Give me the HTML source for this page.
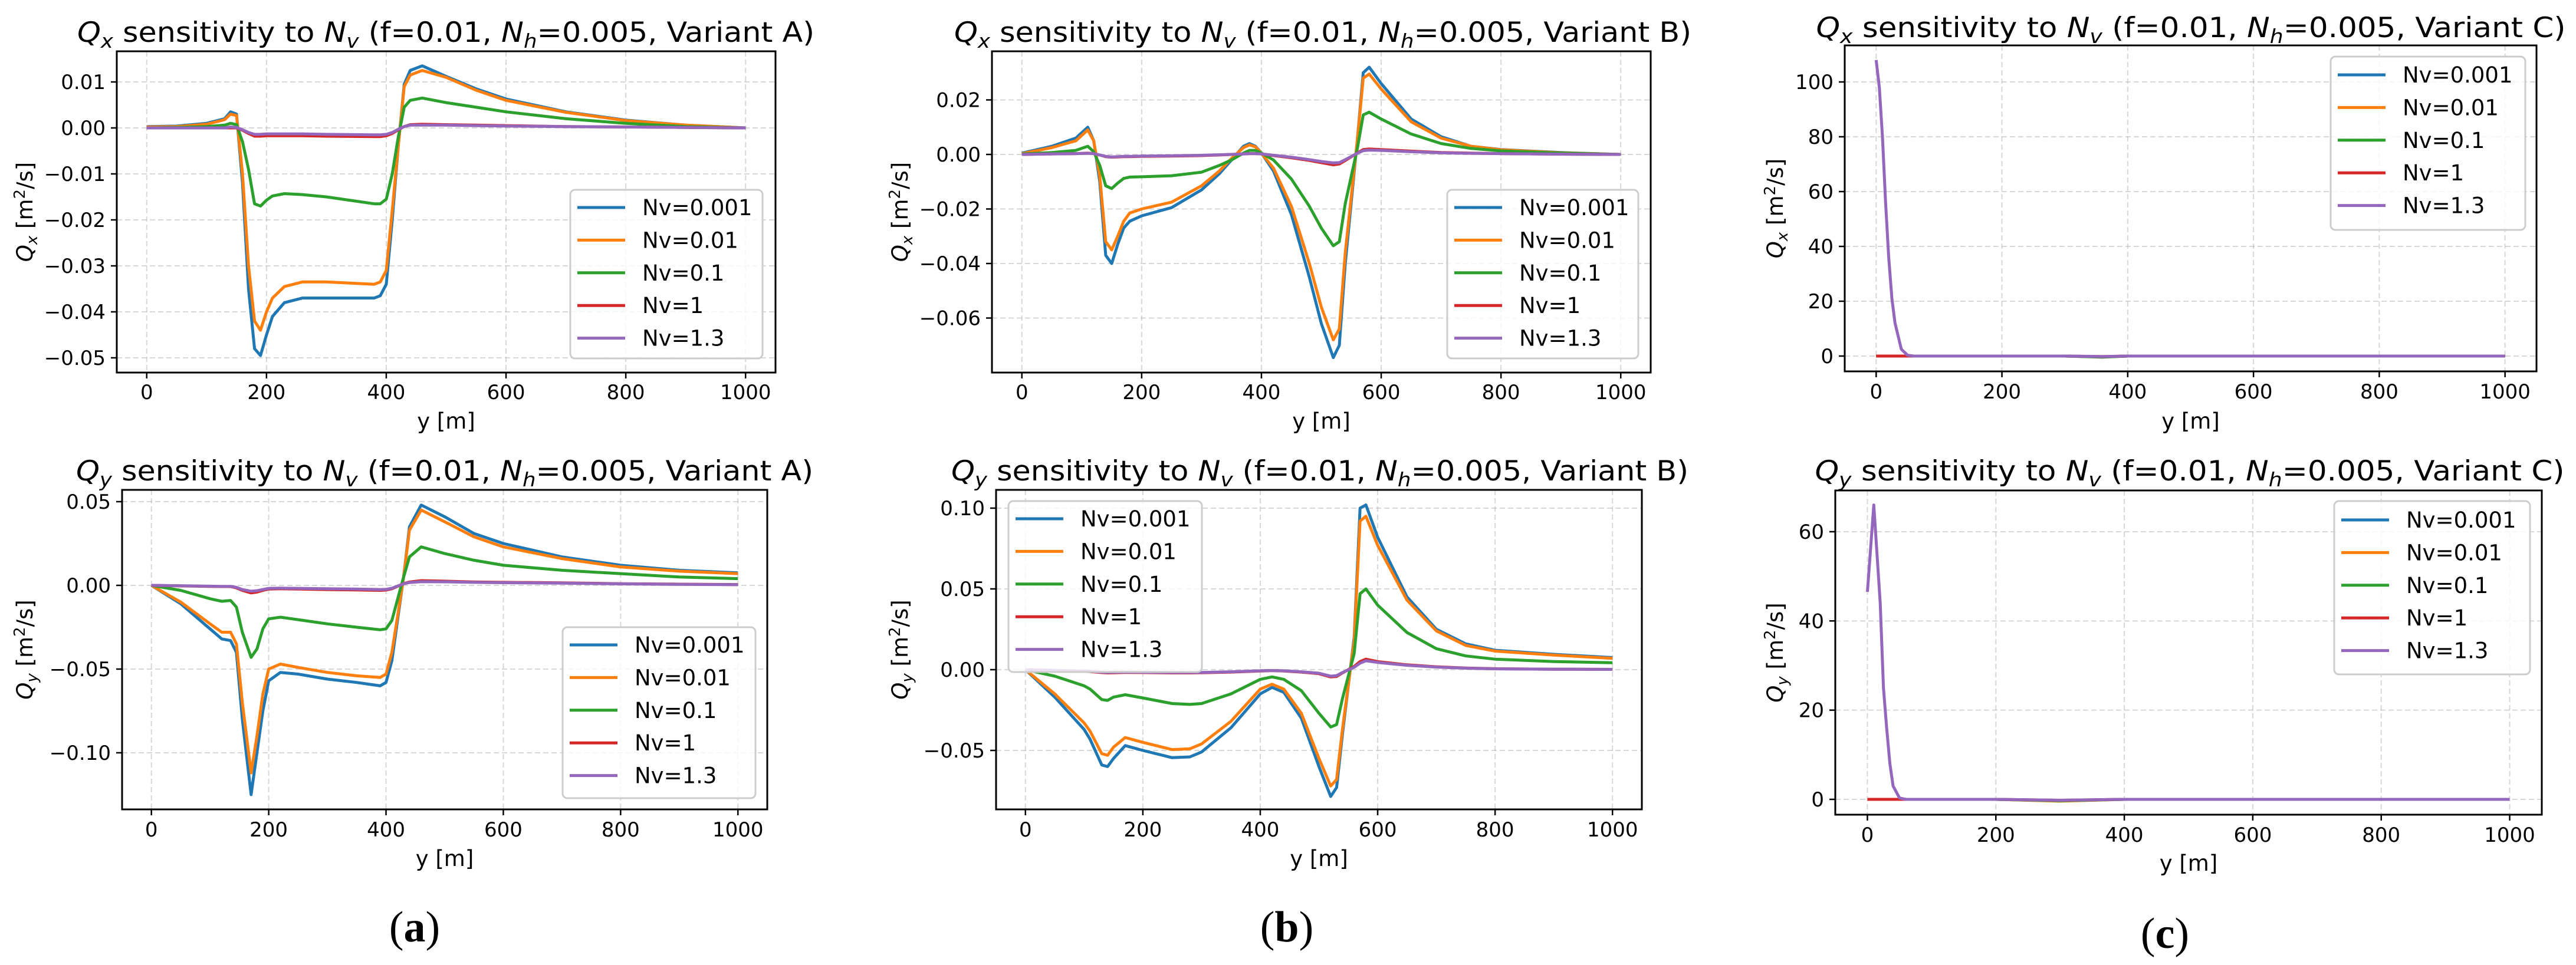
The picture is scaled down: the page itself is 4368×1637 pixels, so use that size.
<!DOCTYPE html>
<html><head><meta charset="utf-8">
<style>
html,body{margin:0;padding:0;background:#fff;}
svg{display:block;}
text{font-family:"DejaVu Sans","Liberation Sans",sans-serif;fill:#000;}
</style></head>
<body>
<svg id="fig" xmlns="http://www.w3.org/2000/svg" width="4368" height="1637" viewBox="0 0 4368 1637">
<rect x="0" y="0" width="4368" height="1637" fill="#fff"/>
<text x="703" y="1597" font-family="Liberation Serif,serif" font-size="74" text-anchor="middle" style="font-family:'Liberation Serif',serif">(<tspan font-weight="bold">a</tspan>)</text>
<text x="2182" y="1597" font-size="74" text-anchor="middle" style="font-family:'Liberation Serif',serif">(<tspan font-weight="bold">b</tspan>)</text>
<text x="3671" y="1608" font-size="74" text-anchor="middle" style="font-family:'Liberation Serif',serif">(<tspan font-weight="bold">c</tspan>)</text>
</svg>
<script>
// ---- data ----
const seriesNames = ["Nv=0.001","Nv=0.01","Nv=0.1","Nv=1","Nv=1.3"];
const xTicks = [0,200,400,600,800,1000];

const aTopX = [0,50,100,130,140,150,160,170,180,190,200,210,230,260,300,380,390,400,410,420,430,440,460,500,550,600,700,800,900,1000];
const aTopBlue = [0.0003,0.0004,0.001,0.002,0.0035,0.003,-0.012,-0.035,-0.048,-0.0495,-0.045,-0.041,-0.038,-0.037,-0.037,-0.037,-0.0365,-0.034,-0.02,-0.004,0.0095,0.0125,0.0135,0.0112,0.0085,0.0063,0.0035,0.0017,0.0006,0];
const aTopOrange = [0.0002,0.0003,0.0008,0.0018,0.003,0.0027,-0.01,-0.03,-0.042,-0.044,-0.040,-0.037,-0.0345,-0.0335,-0.0335,-0.034,-0.0335,-0.031,-0.018,-0.004,0.009,0.0115,0.0125,0.011,0.0082,0.006,0.0034,0.0016,0.0006,0];
const aTopGreen = [0,0.0001,0.0003,0.0006,0.001,0.0007,-0.003,-0.009,-0.0165,-0.017,-0.0157,-0.0148,-0.0143,-0.0145,-0.015,-0.0165,-0.0165,-0.0155,-0.01,-0.002,0.0045,0.006,0.0065,0.0055,0.0045,0.0035,0.002,0.001,0.0003,0];
const aTopRed = [0,0,0,0,0,0,-0.0005,-0.0012,-0.0018,-0.0018,-0.0017,-0.0017,-0.0017,-0.0017,-0.0018,-0.0019,-0.0019,-0.0017,-0.0012,-0.0004,0.0003,0.0007,0.0008,0.0007,0.0006,0.0005,0.0003,0.0002,0.0001,0];
const aTopPurple = [0,0,0,0,0.0002,0.0001,-0.0004,-0.001,-0.0014,-0.0014,-0.0013,-0.0013,-0.0013,-0.0013,-0.0014,-0.0015,-0.0015,-0.0014,-0.001,-0.0003,0.0003,0.0006,0.0006,0.0006,0.0005,0.0004,0.0003,0.0002,0.0001,0];
const aTopTicks = [0.01,0,-0.01,-0.02,-0.03,-0.04,-0.05];
const aTopTickLabels = ["0.01","0.00","−0.01","−0.02","−0.03","−0.04","−0.05"];

const aBotX = [0,50,100,120,135,145,155,170,180,190,200,220,250,300,350,390,400,410,420,430,440,460,500,550,600,700,800,900,1000];
const aBotBlue = [0,-0.011,-0.026,-0.032,-0.033,-0.04,-0.08,-0.125,-0.10,-0.075,-0.057,-0.052,-0.053,-0.056,-0.058,-0.06,-0.058,-0.045,-0.02,0.005,0.035,0.048,0.041,0.031,0.025,0.017,0.012,0.009,0.0075];
const aBotOrange = [0,-0.01,-0.023,-0.028,-0.028,-0.035,-0.07,-0.112,-0.09,-0.065,-0.05,-0.047,-0.049,-0.052,-0.054,-0.055,-0.053,-0.04,-0.018,0.005,0.033,0.045,0.038,0.029,0.023,0.016,0.011,0.0085,0.007];
const aBotGreen = [0,-0.003,-0.008,-0.0095,-0.009,-0.013,-0.028,-0.043,-0.038,-0.026,-0.02,-0.019,-0.0205,-0.023,-0.025,-0.0265,-0.026,-0.021,-0.008,0.005,0.017,0.023,0.019,0.015,0.012,0.009,0.007,0.005,0.004];
const aBotRed = [0,-0.0003,-0.0006,-0.0007,-0.0007,-0.0015,-0.003,-0.0045,-0.004,-0.003,-0.0022,-0.002,-0.0022,-0.0025,-0.0027,-0.003,-0.0028,-0.002,-0.0005,0.001,0.002,0.0028,0.0025,0.002,0.0018,0.0015,0.001,0.0007,0.0005];
const aBotPurple = [0,-0.0002,-0.0005,-0.0006,-0.0006,-0.0012,-0.0025,-0.0035,-0.0032,-0.0025,-0.0018,-0.0017,-0.0018,-0.002,-0.0022,-0.0025,-0.0024,-0.0017,-0.0004,0.001,0.0017,0.0022,0.0021,0.0018,0.0016,0.0013,0.0009,0.0006,0.0004];
const aBotTicks = [0.05,0,-0.05,-0.10];
const aBotTickLabels = ["0.05","0.00","−0.05","−0.10"];

const bTopX = [0,50,90,110,120,130,140,150,160,170,180,200,250,300,330,350,370,380,390,400,420,450,480,500,520,530,540,560,570,580,600,650,700,750,800,900,1000];
const bTopBlue = [0.0005,0.003,0.006,0.010,0.005,-0.01,-0.037,-0.040,-0.033,-0.027,-0.0245,-0.0225,-0.0195,-0.013,-0.007,-0.002,0.003,0.004,0.003,0.0005,-0.006,-0.022,-0.045,-0.062,-0.0745,-0.07,-0.04,0.005,0.03,0.032,0.026,0.013,0.0065,0.003,0.0018,0.0007,0];
const bTopOrange = [0.0003,0.0025,0.005,0.009,0.005,-0.008,-0.032,-0.035,-0.03,-0.0245,-0.0215,-0.02,-0.0175,-0.0115,-0.006,-0.0015,0.0025,0.0035,0.0028,0.0004,-0.005,-0.019,-0.04,-0.056,-0.068,-0.064,-0.036,0.005,0.028,0.0295,0.024,0.012,0.006,0.003,0.0017,0.0006,0];
const bTopGreen = [0.0002,0.0007,0.0015,0.003,0.001,-0.004,-0.0115,-0.0125,-0.0105,-0.0088,-0.0083,-0.0082,-0.0078,-0.0065,-0.004,-0.002,0.0005,0.0015,0.0015,0.0005,-0.002,-0.009,-0.019,-0.027,-0.0335,-0.032,-0.018,0.002,0.0145,0.0155,0.013,0.0075,0.004,0.0022,0.0013,0.0005,0];
const bTopRed = [0,0.0002,0.0003,0.0005,0.0003,-0.0002,-0.0008,-0.001,-0.0009,-0.0008,-0.0008,-0.0007,-0.0006,-0.0004,-0.0002,0,0.0002,0.0003,0.0003,0.0002,-0.0004,-0.0012,-0.0022,-0.003,-0.0038,-0.0035,-0.0022,0.0005,0.0018,0.002,0.0018,0.0012,0.0007,0.0005,0.0003,0.0001,0];
const bTopPurple = [0,0.0002,0.0003,0.0004,0.0003,-0.0002,-0.0007,-0.0009,-0.0008,-0.0007,-0.0007,-0.0006,-0.0005,-0.0003,-0.0001,0,0.0002,0.0003,0.0003,0.0002,-0.0003,-0.001,-0.0019,-0.0026,-0.0031,-0.003,-0.0019,0.0004,0.0014,0.0016,0.0015,0.001,0.0006,0.0004,0.0003,0.0001,0];
const bTopTicks = [0.02,0,-0.02,-0.04,-0.06];
const bTopTickLabels = ["0.02","0.00","−0.02","−0.04","−0.06"];

const bBotX = [0,50,100,110,130,140,150,170,200,250,280,300,350,400,420,440,470,500,520,530,540,560,570,580,600,650,700,750,800,900,1000];
const bBotBlue = [0,-0.017,-0.037,-0.043,-0.059,-0.060,-0.055,-0.047,-0.050,-0.0545,-0.054,-0.051,-0.036,-0.015,-0.011,-0.014,-0.030,-0.060,-0.0785,-0.073,-0.040,0.020,0.100,0.102,0.082,0.045,0.025,0.016,0.012,0.0095,0.0075];
const bBotOrange = [0,-0.015,-0.033,-0.038,-0.052,-0.053,-0.048,-0.042,-0.045,-0.0495,-0.049,-0.046,-0.032,-0.012,-0.009,-0.012,-0.027,-0.055,-0.072,-0.068,-0.037,0.018,0.092,0.095,0.077,0.043,0.024,0.015,0.0115,0.009,0.007];
const bBotGreen = [0,-0.004,-0.010,-0.012,-0.0185,-0.019,-0.017,-0.0155,-0.0175,-0.021,-0.0215,-0.021,-0.015,-0.006,-0.0045,-0.006,-0.013,-0.027,-0.0355,-0.034,-0.018,0.010,0.047,0.050,0.040,0.023,0.013,0.0085,0.0065,0.005,0.0043];
const bBotRed = [0,-0.0005,-0.001,-0.0012,-0.0018,-0.002,-0.0019,-0.0017,-0.0018,-0.002,-0.002,-0.0019,-0.0015,-0.0008,-0.0006,-0.0008,-0.0015,-0.0025,-0.0045,-0.0042,-0.002,0.002,0.005,0.0065,0.005,0.003,0.0018,0.001,0.0006,0.0003,0.0002];
const bBotPurple = [0,-0.0004,-0.0009,-0.001,-0.0015,-0.0017,-0.0016,-0.0015,-0.0016,-0.0018,-0.0018,-0.0017,-0.0013,-0.0007,-0.0005,-0.0007,-0.0013,-0.0022,-0.004,-0.0037,-0.0018,0.0015,0.004,0.0055,0.0045,0.0027,0.0016,0.0009,0.0005,0.0003,0.0002];
const bBotTicks = [0.10,0.05,0,-0.05];
const bBotTickLabels = ["0.10","0.05","0.00","−0.05"];

const cTopX = [0,5,10,15,20,25,30,40,50,60,100,200,300,360,400,500,600,700,800,900,1000];
const cTopBlue = [0,0,0,0,0,0,0,0,0,0,0,0,0,-0.3,0,0,0,0,0,0,0];
const cTopOrange = [0,0,0,0,0,0,0,0,0,0,0,0,0,-0.3,0,0,0,0,0,0,0];
const cTopGreen = [0,0,0,0,0,0,0,0,0,0,0,0,0,-0.4,0,0,0,0,0,0,0];
const cTopRed = [0,0,0,0,0,0,0,0,0,0,0,0,0,-0.2,0,0,0,0,0,0,0];
const cTopPurple = [108,98,80,56,36,21,12,2.5,0.3,0,0,0,0,-0.2,0,0,0,0,0,0,0];
const cTopTicks = [0,20,40,60,80,100];
const cTopTickLabels = ["0","20","40","60","80","100"];

const cBotX = [0,10,20,25,30,35,40,50,60,100,200,300,400,500,600,700,800,900,1000];
const cBotBlue = [0,0,0,0,0,0,0,0,0,0,0,-0.3,0,0,0,0,0,0,0];
const cBotOrange = [0,0,0,0,0,0,0,0,0,0,0,-0.4,0,0,0,0,0,0,0];
const cBotGreen = [0,0,0,0,0,0,0,0,0,0,0,-0.3,0,0,0,0,0,0,0];
const cBotRed = [0,0,0,0,0,0,0,0,0,0,0,-0.2,0,0,0,0,0,0,0];
const cBotPurple = [46.5,66,44,25,16,8,3,0.3,0,0,0,-0.2,0,0,0,0,0,0,0];
const cBotTicks = [0,20,40,60];
const cBotTickLabels = ["0","20","40","60"];

// ---- layout ----
const NS = "http://www.w3.org/2000/svg";
const svg = document.getElementById('fig');
const colors = ["#1f77b4","#ff7f0e","#2ca02c","#d62728","#9467bd"];
function mk(tag, attrs, parent){
  const e = document.createElementNS(NS, tag);
  for (const k in attrs) e.setAttribute(k, attrs[k]);
  (parent||svg).appendChild(e);
  return e;
}
function sub(t, txt){ const s = mk('tspan', {'font-size':'70%','dy':'9'}, t); s.textContent = txt; return s; }

function panel(p){
  const g = mk('g', {});
  
  
  const xs = v => p.L + (v - (-50)) / 1100 * (p.R - p.L);
  const ys = v => p.zeroY - v * p.pxPerUnit;
  // grid
  xTicks.forEach(t => {
    const gl = mk('line', {x1:xs(t), x2:xs(t), y1:p.T, y2:p.B, stroke:'#b0b0b0', 'stroke-opacity':'0.5', 'stroke-width':'2', 'stroke-dasharray':'9,5'}, g);
    
    
  });
  p.yt.forEach(t => {
    const gl = mk('line', {x1:p.L, x2:p.R, y1:ys(t), y2:ys(t), stroke:'#b0b0b0', 'stroke-opacity':'0.5', 'stroke-width':'2', 'stroke-dasharray':'9,5'}, g);
    
    
  });
  // series
  const clipId = 'clip' + p.name;
  const cp = mk('clipPath', {id: clipId}, g);
  mk('rect', {x:p.L, y:p.T, width:p.R-p.L, height:p.B-p.T}, cp);
  p.series.forEach((arr, i) => {
    const d = arr.map((v, j) => (j ? 'L' : 'M') + xs(p.x[j]).toFixed(1) + ',' + ys(v).toFixed(1)).join(' ');
    const path = mk('path', {d: d, fill:'none', stroke: colors[i], 'stroke-width':'5', 'stroke-linejoin':'round', 'clip-path':'url(#'+clipId+')'}, g);
    
    
  });
  // frame
  const fr = mk('rect', {x:p.L, y:p.T, width:p.R-p.L, height:p.B-p.T, fill:'none', stroke:'#000', 'stroke-width':'3'}, g);
  
  
  // x ticks
  xTicks.forEach(t => {
    mk('line', {x1:xs(t), x2:xs(t), y1:p.B, y2:p.B+10, stroke:'#000', 'stroke-width':'2.5'}, g);
    const tl = mk('text', {x:xs(t), y:p.xlabY, 'font-size':'34', 'text-anchor':'middle'}, g);
    tl.textContent = String(t);
    
    
  });
  p.yt.forEach((t, i) => {
    mk('line', {x1:p.L-10, x2:p.L, y1:ys(t), y2:ys(t), stroke:'#000', 'stroke-width':'2.5'}, g);
    const tl = mk('text', {x:p.L-19, y:ys(t)+12, 'font-size':'34', 'text-anchor':'end'}, g);
    tl.textContent = p.ytl[i];
    
    
  });
  // x title
  const xt = mk('text', {x:(p.L+p.R)/2, y:p.xtitleY, 'font-size':'37', 'text-anchor':'middle'}, g);
  xt.textContent = 'y [m]';
  
  
  // y title
  const cy = (p.T+p.B)/2;
  const yt = mk('text', {x:0, y:0, 'font-size':'37', 'text-anchor':'middle', transform:'translate('+(p.ylabX+13)+','+cy+') rotate(-90)'}, g);
  
  
  const q = mk('tspan', {'font-style':'italic'}, yt); q.textContent = 'Q';
  const s1 = mk('tspan', {'font-style':'italic','font-size':'26','dy':'8'}, yt); s1.textContent = p.comp;
  const s2 = mk('tspan', {'dy':'-8'}, yt); s2.textContent = '  [m';
  const s3 = mk('tspan', {'font-size':'26','dy':'-13'}, yt); s3.textContent = '2';
  const s4 = mk('tspan', {'dy':'13'}, yt); s4.textContent = '/s]';
  // title
  const tt = mk('text', {x:p.titleX, y:p.titleY, 'font-size':'47', 'text-anchor':'middle', textLength:p.titleW, lengthAdjust:'spacingAndGlyphs'}, g);
  
  
  const parts = [['Q','i',0],[p.comp,'is',1],[' sensitivity to ','n',-1],['N','i',0],['v','is',1],[' (f=0.01, ','n',-1],['N','i',0],['h','is',1],['=0.005, Variant '+p.variant+')','n',-1]];
  parts.forEach(pt => {
    const a = {};
    if (pt[1].indexOf('i')===0) a['font-style']='italic';
    if (pt[1]==='is') { a['font-size']='33'; a['dy']='10'; }
    if (pt[2]===-1) a['dy']='-10';
    const ts = mk('tspan', a, tt); ts.textContent = pt[0];
  });
  // legend
  const lg = mk('g', {}, g);
  
  
  mk('rect', {x:p.lg[0], y:p.lg[1], width:p.lg[2]-p.lg[0], height:p.lg[3]-p.lg[1], rx:'8', fill:'#fff', 'fill-opacity':'0.8', stroke:'#cccccc', 'stroke-width':'3'}, lg);
  seriesNames.forEach((n, i) => {
    const y = p.lg[4] + i*55.4;
    const ln = mk('line', {x1:p.lg[0]+12, x2:p.lg[0]+93, y1:y, y2:y, stroke:colors[i], 'stroke-width':'5'}, lg);
    
    
    const lt = mk('text', {x:p.lg[0]+122, y:y+13, 'font-size':'37'}, lg);
    lt.textContent = n;
    
    
  });
}

panel({name:'qx-variant-a', L:198, R:1315, T:87, B:632, zeroY:217, pxPerUnit:7800, x:aTopX,
  series:[aTopBlue,aTopOrange,aTopGreen,aTopRed,aTopPurple], yt:aTopTicks, ytl:aTopTickLabels,
  xlabY:677, xtitleY:727, ylabX:42, comp:'x', variant:'A', titleX:756, titleY:71, titleW:1250, lg:[967,322,1293,608,352]});
panel({name:'qy-variant-a', L:207, R:1301, T:831, B:1373, zeroY:993, pxPerUnit:2840, x:aBotX,
  series:[aBotBlue,aBotOrange,aBotGreen,aBotRed,aBotPurple], yt:aBotTicks, ytl:aBotTickLabels,
  xlabY:1419, xtitleY:1469, ylabX:42, comp:'y', variant:'A', titleX:754, titleY:815, titleW:1250, lg:[954,1064,1281,1354,1094]});
panel({name:'qx-variant-b', L:1682, R:2799, T:87, B:632, zeroY:262, pxPerUnit:4625, x:bTopX,
  series:[bTopBlue,bTopOrange,bTopGreen,bTopRed,bTopPurple], yt:bTopTicks, ytl:bTopTickLabels,
  xlabY:677, xtitleY:727, ylabX:1526, comp:'x', variant:'B', titleX:2243, titleY:71, titleW:1250, lg:[2454,322,2778,608,352]});
panel({name:'qy-variant-b', L:1689, R:2784, T:831, B:1373, zeroY:1136, pxPerUnit:2740, x:bBotX,
  series:[bBotBlue,bBotOrange,bBotGreen,bBotRed,bBotPurple], yt:bBotTicks, ytl:bBotTickLabels,
  xlabY:1419, xtitleY:1469, ylabX:1526, comp:'y', variant:'B', titleX:2238, titleY:815, titleW:1250, lg:[1710,850,2038,1140,880]});
panel({name:'qx-variant-c', L:3128, R:4301, T:77, B:630, zeroY:604, pxPerUnit:4.65, x:cTopX,
  series:[cTopBlue,cTopOrange,cTopGreen,cTopRed,cTopPurple], yt:cTopTicks, ytl:cTopTickLabels,
  xlabY:676, xtitleY:727, ylabX:3010, comp:'x', variant:'C', titleX:3715, titleY:63, titleW:1271, lg:[3952,96,4282,390,127]});
panel({name:'qy-variant-c', L:3112, R:4310, T:832, B:1382, zeroY:1356, pxPerUnit:7.567, x:cBotX,
  series:[cBotBlue,cBotOrange,cBotGreen,cBotRed,cBotPurple], yt:cBotTicks, ytl:cBotTickLabels,
  xlabY:1428, xtitleY:1477, ylabX:3010, comp:'y', variant:'C', titleX:3713, titleY:815, titleW:1271, lg:[3958,850,4290,1144,882]});
</script>
</body></html>
